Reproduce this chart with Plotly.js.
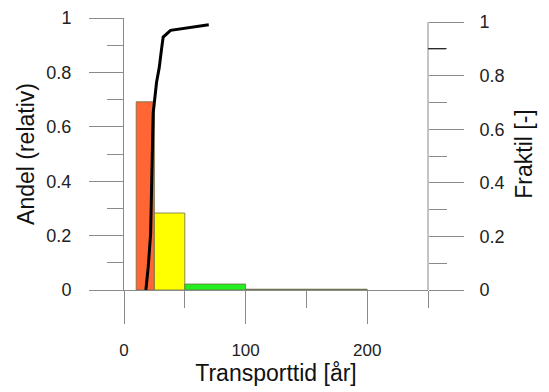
<!DOCTYPE html>
<html>
<head>
<meta charset="utf-8">
<script src="https://cdn.plot.ly/plotly-3.0.1.min.js"></script>
<style>html,body{margin:0;padding:0;background:#fff;}</style>
</head>
<body>
<div id="chart" style="width:549px;height:392px;"></div>
<script>
// Histogram bins (transport time, years) and relative share
const binEdges = [10, 25, 50, 100, 200];
const shares = [0.692, 0.283, 0.022, 0.003];
const barColors = ['#FF6633', '#FFFF00', '#22EE22', '#555555'];

// Cumulative curve (fractile) vs transport time
const cdfTime = [18.0, 19.9, 21.9, 22.7, 24.0, 26.8, 28.9, 30.9, 32.2, 38.3, 69.7];
const cdfFrac = [0.0, 0.085, 0.21, 0.40, 0.66, 0.776, 0.827, 0.90, 0.944, 0.969, 0.99];

const xTicks = [0, 100, 200];
const yTicks = [0, 0.2, 0.4, 0.6, 0.8, 1];
const yTickText = ['0', '0.2', '0.4', '0.6', '0.8', '1'];

const centers = shares.map((_, i) => (binEdges[i] + binEdges[i + 1]) / 2);
const widths = shares.map((_, i) => binEdges[i + 1] - binEdges[i]);

const axisGrey = '#8a8a8a';
const font = 'Liberation Sans, Arial, sans-serif';

const traces = [
  {
    type: 'bar', x: centers, y: shares, width: widths,
    marker: {color: barColors, line: {color: 'rgba(110,110,70,0.8)', width: 1}},
    xaxis: 'x', yaxis: 'y', hoverinfo: 'x+y', showlegend: false
  },
  {
    type: 'scatter', mode: 'lines', x: cdfTime, y: cdfFrac,
    line: {color: '#000', width: 3},
    xaxis: 'x', yaxis: 'y2', showlegend: false
  }
];

const layout = {
  width: 549, height: 392,
  margin: {l: 124, r: 121, t: 18, b: 102},
  paper_bgcolor: '#fff', plot_bgcolor: '#fff',
  font: {family: font, color: '#222'},
  showlegend: false,
  xaxis: {
    range: [0, 250], showgrid: false, zeroline: false,
    showline: true, linecolor: axisGrey, linewidth: 1,
    tickmode: 'array', tickvals: xTicks, ticktext: xTicks.map(String),
    ticks: 'outside', ticklen: 33, tickcolor: axisGrey, tickwidth: 1,
    ticklabelstandoff: 12,
    minor: {dtick: 50, tick0: 0, ticks: 'outside', ticklen: 17, tickcolor: axisGrey, tickwidth: 1},
    tickfont: {size: 17, color: '#222'},
    title: {text: 'Transporttid [år]', font: {size: 23, color: '#111'}, standoff: 4}
  },
  yaxis: {
    range: [0, 1], showgrid: false, zeroline: false,
    showline: true, linecolor: axisGrey, linewidth: 1,
    tickmode: 'array', tickvals: yTicks, ticktext: yTickText,
    ticks: 'outside', ticklen: 34, tickcolor: axisGrey, tickwidth: 1,
    ticklabelstandoff: 14,
    minor: {dtick: 0.1, tick0: 0, ticks: 'outside', ticklen: 16, tickcolor: axisGrey, tickwidth: 1},
    tickfont: {size: 18, color: '#222'},
    title: {text: 'Andel (relativ)', font: {size: 23, color: '#111'}, standoff: 5}
  },
  yaxis2: {
    overlaying: 'y', side: 'right', anchor: 'x',
    range: [0, 1.015], showgrid: false, zeroline: false,
    showline: false,
    tickmode: 'array', tickvals: yTicks, ticktext: yTickText,
    ticks: 'outside', ticklen: 35, tickcolor: axisGrey, tickwidth: 1,
    ticklabelstandoff: 12,
    minor: {dtick: 0.1, tick0: 0, ticks: 'outside', ticklen: 18, tickcolor: axisGrey, tickwidth: 1},
    tickfont: {size: 18, color: '#222'},
    title: {text: 'Fraktil [-]', font: {size: 23, color: '#111'}, standoff: 12}
  },
  shapes: [
    {type: 'line', xref: 'x domain', x0: 1, x1: 1, yref: 'y2', y0: 0, y1: 1,
     line: {color: axisGrey, width: 1}},
    {type: 'line', xref: 'x domain', x0: 1, x1: 1 + 18 / 304, yref: 'y2', y0: 0.9, y1: 0.9,
     line: {color: '#000', width: 1}}
  ]
};

Plotly.newPlot('chart', traces, layout, {displayModeBar: false, staticPlot: true});
</script>
</body>
</html>
